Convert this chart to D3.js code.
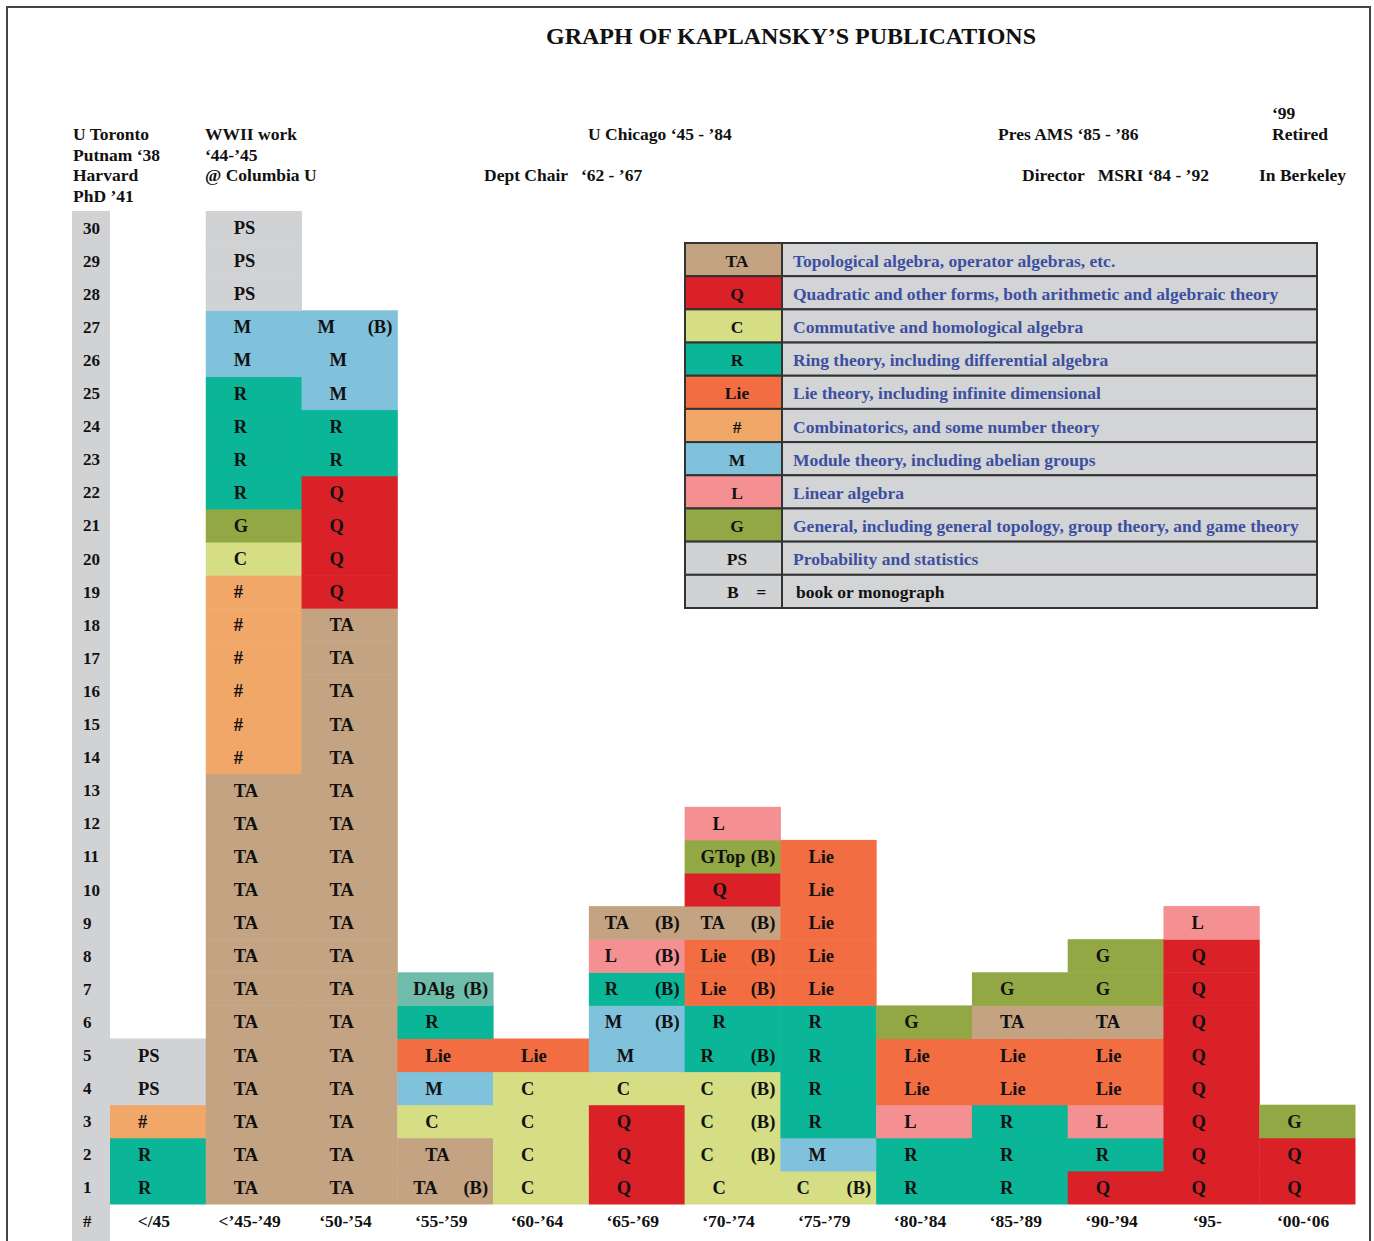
<!DOCTYPE html>
<html>
<head>
<meta charset="utf-8">
<script src="https://cdn.jsdelivr.net/npm/d3@7"></script>
<style>
  body { margin: 0; background: #fff; }
  text { font-family: "Liberation Serif", "Times New Roman", serif; font-weight: bold; fill: #111; }
</style>
</head>
<body>
<svg id="chart"></svg>
<script>
// five-year periods along the bottom
const periods = ["</45", "<’45-’49", "‘50-’54", "‘55-’59", "‘60-’64", "‘65-’69", "‘70-’74",
  "‘75-’79", "‘80-’84", "‘85-’89", "‘90-’94", "‘95-", "‘00-‘06"]

// publications in each period, stacked from the bottom up. "(B)" = book or monograph
const pubs = [
  ["R", "R", "#", "PS", "PS"],
  ["TA", "TA", "TA", "TA", "TA", "TA", "TA", "TA", "TA", "TA", "TA", "TA", "TA",
   "#", "#", "#", "#", "#", "#", "C", "G", "R", "R", "R", "R", "M", "M", "PS", "PS", "PS"],
  ["TA", "TA", "TA", "TA", "TA", "TA", "TA", "TA", "TA", "TA", "TA", "TA", "TA", "TA", "TA", "TA", "TA", "TA",
   "Q", "Q", "Q", "Q", "R", "R", "M", "M", "M (B)"],
  ["TA (B)", "TA", "C", "M", "Lie", "R", "DAlg (B)"],
  ["C", "C", "C", "C", "Lie"],
  ["Q", "Q", "Q", "C", "M", "M (B)", "R (B)", "L (B)", "TA (B)"],
  ["C", "C (B)", "C (B)", "C (B)", "R (B)", "R", "Lie (B)", "Lie (B)", "TA (B)", "Q", "GTop (B)", "L"],
  ["C (B)", "M", "R", "R", "R", "R", "Lie", "Lie", "Lie", "Lie", "Lie"],
  ["R", "R", "L", "Lie", "Lie", "G"],
  ["R", "R", "R", "Lie", "Lie", "TA", "G"],
  ["Q", "R", "L", "Lie", "Lie", "TA", "G", "G"],
  ["Q", "Q", "Q", "Q", "Q", "Q", "Q", "Q", "L"],
  ["Q", "Q", "G"]
]

// legend
const topics = ["TA", "Q", "C", "R", "Lie", "#", "M", "L", "G", "PS"]
const topicNames = [
  "Topological algebra, operator algebras, etc.",
  "Quadratic and other forms, both arithmetic and algebraic theory",
  "Commutative and homological algebra",
  "Ring theory, including differential algebra",
  "Lie theory, including infinite dimensional",
  "Combinatorics, and some number theory",
  "Module theory, including abelian groups",
  "Linear algebra",
  "General, including general topology, group theory, and game theory",
  "Probability and statistics"
]
const topicColors = ["#c4a383", "#da2128", "#d5de85", "#0ab697", "#f26d42",
  "#f0a767", "#80c1db", "#f49092", "#91a844", "#d1d2d4"]

// career notes above the chart
const careerNotes = [
  ["U Toronto", "Putnam ‘38", "Harvard", "PhD ’41"],
  ["WWII work", "‘44-’45", "@ Columbia U"],
  ["U Chicago ‘45 - ’84"],
  ["Dept Chair   ‘62 - ’67"],
  ["Pres AMS ‘85 - ’86"],
  ["‘99", "Retired"],
  ["Director   MSRI ‘84 - ’92"],
  ["In Berkeley"]
]

const maxCount = 30
const rowNumbers = d3.range(1, maxCount + 1)

let width = 1374
let height = 1241

let svg = d3.select("#chart")
  .attr("width", width)
  .attr("height", height)

// frame (no bottom edge, the page runs on)
svg.append("path")
  .attr("d", `M7,${height} V7 H1370 V${height}`)
  .attr("fill", "none")
  .attr("stroke", "#444")
  .attr("stroke-width", 2)

svg.append("text")
  .attr("x", 791)
  .attr("y", 44)
  .attr("text-anchor", "middle")
  .style("font-size", "24px")
  .text("GRAPH OF KAPLANSKY’S PUBLICATIONS")

// career notes: [x, y of first line]
let noteSpots = [[73, 140], [205, 140], [588, 140], [484, 181], [998, 140], [1272, 119], [1022, 181], [1259, 181]]
careerNotes.forEach((lines, i) => {
  let t = svg.append("text")
    .attr("x", noteSpots[i][0])
    .attr("y", noteSpots[i][1])
    .style("font-size", "17.5px")
    .attr("xml:space", "preserve")
  lines.forEach((line, j) => {
    t.append("tspan")
      .attr("x", noteSpots[i][0])
      .attr("dy", j == 0 ? 0 : 20.5)
      .text(line)
  })
})

// scales
let xScale = d3.scaleBand()
  .domain(periods)
  .range([110, 1355])

let yScale = d3.scaleLinear()
  .domain([0, maxCount])
  .range([1204, 211])

let colorOf = d3.scaleOrdinal()
  .domain(topics.concat(["DAlg", "GTop"]))
  .range(topicColors.concat(["#6fbcab", "#91a844"]))

let mid = n => (yScale(n) + yScale(n - 1)) / 2

// number column on the left
svg.append("rect")
  .attr("x", 72)
  .attr("y", yScale(maxCount))
  .attr("width", 38)
  .attr("height", height - yScale(maxCount))
  .attr("fill", "#d1d2d4")

svg.selectAll(".rownum")
  .data(rowNumbers)
  .enter()
  .append("text")
  .attr("class", "rownum")
  .attr("x", 83)
  .attr("y", d => mid(d) + 6)
  .style("font-size", "17px")
  .text(d => d)

svg.append("text")
  .attr("x", 83)
  .attr("y", 1227)
  .style("font-size", "17px")
  .text("#")

// one stack of cells per period
let cells = []
pubs.forEach((list, i) => {
  list.forEach((label, j) => {
    let book = label.endsWith("(B)")
    let name = label.replace("(B)", "").trim()
    cells.push({ period: periods[i], n: j + 1, name: name, book: book })
  })
})

let cell = svg.selectAll(".cell")
  .data(cells)
  .enter()
  .append("g")
  .attr("class", "cell")

cell.append("rect")
  .attr("x", d => xScale(d.period))
  .attr("y", d => yScale(d.n))
  .attr("width", xScale.bandwidth() + 0.5)
  .attr("height", yScale(0) - yScale(1) + 0.5)
  .attr("fill", d => colorOf(d.name))

cell.append("text")
  .attr("x", d => xScale(d.period) + (d.book ? 16 : 28))
  .attr("y", d => mid(d.n) + 6.5)
  .style("font-size", "18.5px")
  .text(d => d.name)

cell.filter(d => d.book)
  .append("text")
  .attr("x", d => xScale(d.period) + xScale.bandwidth() - 5)
  .attr("y", d => mid(d.n) + 6.5)
  .attr("text-anchor", "end")
  .style("font-size", "18.5px")
  .text("(B)")

// period axis
let xAxis = svg.append("g")
  .attr("transform", `translate(0, ${1210})`)
  .call(d3.axisBottom(xScale).tickSize(0))

xAxis.select(".domain").remove()
xAxis.selectAll("text")
  .attr("dx", -4)
  .attr("dy", 0)
  .attr("y", 17)
  .style("font-family", "Liberation Serif, serif")
  .style("font-weight", "bold")
  .style("font-size", "17.5px")
  .style("fill", "#111")

// legend
let legendRows = topics.concat(["B"])
let ly = d3.scaleBand()
  .domain(legendRows)
  .range([243, 608])

let legend = svg.append("g")

legend.selectAll(".swatch")
  .data(legendRows)
  .enter()
  .append("rect")
  .attr("x", 685)
  .attr("y", d => ly(d))
  .attr("width", 97)
  .attr("height", ly.bandwidth())
  .attr("fill", d => d == "B" ? "#d1d2d4" : colorOf(d))
  .attr("stroke", "#333")
  .attr("stroke-width", 2)

legend.selectAll(".desc")
  .data(legendRows)
  .enter()
  .append("rect")
  .attr("x", 782)
  .attr("y", d => ly(d))
  .attr("width", 535)
  .attr("height", ly.bandwidth())
  .attr("fill", "#d3d4d6")
  .attr("stroke", "#333")
  .attr("stroke-width", 2)

legend.selectAll(".key")
  .data(topics)
  .enter()
  .append("text")
  .attr("x", 737)
  .attr("y", d => ly(d) + ly.bandwidth() / 2 + 7)
  .attr("text-anchor", "middle")
  .style("font-size", "17.5px")
  .text(d => d)

legend.selectAll(".name")
  .data(topicNames)
  .enter()
  .append("text")
  .attr("x", 793)
  .attr("y", (d, i) => ly(topics[i]) + ly.bandwidth() / 2 + 7)
  .style("font-size", "17.5px")
  .style("fill", "#3c4fa0")
  .text(d => d)

legend.append("text")
  .attr("x", 727)
  .attr("y", ly("B") + ly.bandwidth() / 2 + 7)
  .attr("xml:space", "preserve")
  .style("font-size", "17.5px")
  .text("B    =")

legend.append("text")
  .attr("x", 796)
  .attr("y", ly("B") + ly.bandwidth() / 2 + 7)
  .style("font-size", "17.5px")
  .text("book or monograph")
</script>
</body>
</html>
